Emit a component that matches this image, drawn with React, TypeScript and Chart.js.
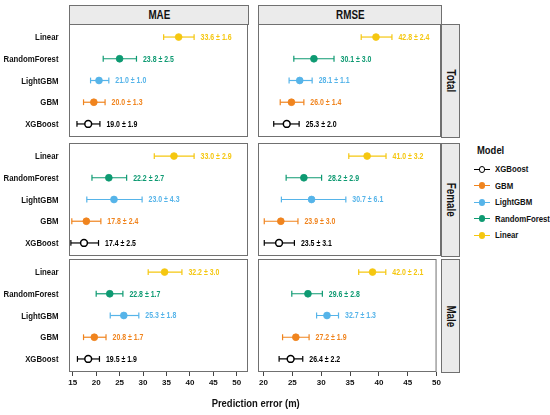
import { useEffect, useRef } from "react";
import { Chart, registerables } from "chart.js";

Chart.register(...registerables);

// models top-to-bottom as drawn in every panel
const models = ["Linear", "RandomForest", "LightGBM", "GBM", "XGBoost"];
const legendOrder = ["XGBoost", "GBM", "LightGBM", "RandomForest", "Linear"];
const modelColors: Record<string, string> = {
  Linear: "#F5C710",
  RandomForest: "#0E9A72",
  LightGBM: "#56B4E9",
  GBM: "#F0841E",
  XGBoost: "#000000",
};

const maeTicks = [15, 20, 25, 30, 35, 40, 45, 50];
const rmseTicks = [20, 25, 30, 35, 40, 45, 50];

// plotted point and interval ends
const maeTotalMean = [37.6, 25.0, 20.6, 19.5, 18.3];
const maeTotalLow = [34.4, 21.5, 18.8, 17.3, 15.9];
const maeTotalHigh = [40.9, 28.6, 22.7, 21.9, 20.8];
const maeTotalText = ["33.6 ± 1.6", "23.8 ± 2.5", "21.0 ± 1.0", "20.0 ± 1.3", "19.0 ± 1.9"];

const rmseTotalMean = [39.0, 28.5, 26.1, 24.7, 23.9];
const rmseTotalLow = [36.5, 25.1, 24.3, 22.8, 21.7];
const rmseTotalHigh = [41.7, 31.9, 28.2, 26.8, 26.0];
const rmseTotalText = ["42.8 ± 2.4", "30.1 ± 3.0", "28.1 ± 1.1", "26.0 ± 1.4", "25.3 ± 2.0"];

const maeFemaleMean = [36.6, 22.7, 23.8, 17.9, 17.4];
const maeFemaleLow = [32.4, 19.1, 18.0, 14.8, 14.6];
const maeFemaleHigh = [40.9, 26.5, 29.8, 21.0, 20.5];
const maeFemaleText = ["33.0 ± 2.9", "22.2 ± 2.7", "23.0 ± 4.3", "17.8 ± 2.4", "17.4 ± 2.5"];

const rmseFemaleMean = [37.5, 26.8, 28.1, 22.9, 22.6];
const rmseFemaleLow = [34.4, 23.8, 23.0, 20.1, 20.1];
const rmseFemaleHigh = [40.7, 29.8, 33.9, 25.8, 25.2];
const rmseFemaleText = ["41.0 ± 3.2", "28.2 ± 2.9", "30.7 ± 6.1", "23.9 ± 3.0", "23.5 ± 3.1"];

const maeMaleMean = [34.6, 22.9, 25.9, 19.6, 18.3];
const maeMaleLow = [31.1, 20.0, 23.0, 17.3, 16.0];
const maeMaleHigh = [38.3, 25.7, 29.1, 22.1, 20.7];
const maeMaleText = ["32.2 ± 3.0", "22.8 ± 1.7", "25.3 ± 1.8", "20.8 ± 1.7", "19.5 ± 1.9"];

const rmseMaleMean = [38.9, 27.7, 31.0, 25.6, 24.7];
const rmseMaleLow = [36.5, 24.9, 29.2, 23.3, 22.7];
const rmseMaleHigh = [41.2, 30.2, 33.0, 27.9, 26.8];
const rmseMaleText = ["42.0 ± 2.1", "29.6 ± 2.8", "32.7 ± 1.3", "27.2 ± 1.9", "26.4 ± 2.2"];

const FONT = '"Liberation Sans", Arial, sans-serif';
const NARROW = 0.82; // no Arial Narrow here, so squeeze the regular face
const BORDER = "#707070";

const colLeft = [69, 258];
const colRight = [248, 441];
const rowTop = [24, 143, 259];
const rowHeight = 113;

// draw squeezed text on the canvas
const narrowText = (
  ctx: CanvasRenderingContext2D,
  s: string,
  x: number,
  y: number,
  align: "left" | "right" | "center"
) => {
  ctx.save();
  ctx.translate(x, y);
  ctx.scale(NARROW, 1);
  ctx.textAlign = align;
  ctx.textBaseline = "middle";
  ctx.fillText(s, 0, 0);
  ctx.restore();
};

interface PanelProps {
  col: number;
  row: number;
  mean: number[];
  low: number[];
  high: number[];
  text: string[];
}

const Panel = ({ col, row, mean, low, high, text }: PanelProps) => {
  const canvasRef = useRef<HTMLCanvasElement | null>(null);
  const showY = col === 0;
  const showX = row === 2;
  const ticks = col === 0 ? maeTicks : rmseTicks;
  const xMin = col === 0 ? 14.2 : 19.04;
  const xMax = col === 0 ? 52.4 : 50;

  const left = col === 0 ? 0 : colLeft[1] - 2;
  const top = rowTop[row] - 2;
  const width = colRight[col] + 2 - left;
  const height = rowHeight + 4 + (showX ? 20 : 0);

  useEffect(() => {
    if (!canvasRef.current) return;

    const barSets = models.map((m, i) => ({
      type: "line" as const,
      data: [
        { x: low[i], y: i },
        { x: high[i], y: i },
      ],
      showLine: true,
      borderColor: modelColors[m],
      borderWidth: 1.2,
      pointStyle: "line" as const,
      rotation: 90,
      pointRadius: 2.9,
      pointBorderColor: modelColors[m],
      pointBorderWidth: 1.2,
    }));

    const pointSet = {
      type: "scatter" as const,
      data: models.map((_, i) => ({ x: mean[i], y: i })),
      pointRadius: 3.4,
      pointBackgroundColor: models.map((m) => (m === "XGBoost" ? "#ffffff" : modelColors[m])),
      pointBorderColor: models.map((m) => modelColors[m]),
      pointBorderWidth: models.map((m) => (m === "XGBoost" ? 1.5 : 0.8)),
    };

    const framePlugin = {
      id: "frame",
      beforeDatasetsDraw(chart: Chart) {
        const { ctx, chartArea } = chart;
        ctx.save();
        ctx.strokeStyle = BORDER;
        ctx.lineWidth = 1;
        ctx.strokeRect(
          chartArea.left + 0.5,
          chartArea.top + 0.5,
          chartArea.right - chartArea.left - 1,
          chartArea.bottom - chartArea.top - 1
        );
        ctx.restore();
      },
    };

    const textPlugin = {
      id: "valueText",
      afterDatasetsDraw(chart: Chart) {
        const { ctx, chartArea } = chart;
        const xs = chart.scales.x;
        const ys = chart.scales.y;
        ctx.save();
        ctx.font = `bold 8.5px ${FONT}`;
        models.forEach((m, i) => {
          ctx.fillStyle = modelColors[m];
          narrowText(ctx, text[i], xs.getPixelForValue(high[i]) + 6.5, ys.getPixelForValue(i) + 0.5, "left");
        });
        // model names on the left column
        if (showY) {
          ctx.font = `bold 9.5px ${FONT}`;
          ctx.fillStyle = "#111";
          models.forEach((m, i) => {
            narrowText(ctx, m, chartArea.left - 10.5, ys.getPixelForValue(i) + 0.5, "right");
          });
        }
        ctx.restore();
      },
    };

    const chart = new Chart(canvasRef.current, {
      type: "scatter",
      data: { datasets: [pointSet, ...barSets] as any },
      options: {
        animation: false,
        responsive: false,
        events: [],
        layout: {
          autoPadding: false,
          padding: { left: showY ? 0 : 2, right: 2, top: 2, bottom: 2 },
        },
        plugins: { legend: { display: false }, tooltip: { enabled: false } },
        scales: {
          x: {
            type: "linear",
            min: xMin,
            max: xMax,
            display: showX,
            afterBuildTicks: (s: any) => {
              s.ticks = ticks.map((v) => ({ value: v }));
            },
            afterFit: (s: any) => {
              if (showX) s.height = 20;
            },
            ticks: {
              font: { family: FONT, size: 8, weight: "bold" },
              color: "#111",
              padding: 2,
              maxRotation: 0,
              autoSkip: false,
            },
            grid: { drawOnChartArea: false, drawTicks: true, tickLength: 4, color: "#444" },
            border: { display: false },
          },
          y: {
            type: "linear",
            min: -0.6,
            max: 4.6,
            reverse: true,
            display: showY,
            afterBuildTicks: (s: any) => {
              s.ticks = models.map((_, i) => ({ value: i }));
            },
            afterFit: (s: any) => {
              if (showY) s.width = 69;
            },
            ticks: { display: false },
            grid: { display: false },
            border: { display: false },
          },
        },
      },
      plugins: [framePlugin, textPlugin],
    });

    return () => chart.destroy();
  }, []);

  return (
    <canvas
      ref={canvasRef}
      width={width}
      height={height}
      style={{ position: "absolute", left, top, width, height }}
    />
  );
};

const stripBase: React.CSSProperties = {
  position: "absolute",
  boxSizing: "border-box",
  background: "#ebebeb",
  border: `1px solid ${BORDER}`,
  fontFamily: FONT,
  fontWeight: "bold",
  color: "#111",
  display: "flex",
  alignItems: "center",
  justifyContent: "center",
};

const rowNames = ["Total", "Female", "Male"];
const colNames = ["MAE", "RMSE"];

const App = () => {
  return (
    <div
      style={{
        position: "absolute",
        left: 0,
        top: 0,
        width: 550,
        height: 415,
        background: "#fff",
        overflow: "hidden",
      }}
    >
      {colNames.map((name, c) => (
        <div
          key={name}
          style={{
            ...stripBase,
            left: colLeft[c],
            top: 5,
            width: colRight[c] - colLeft[c] + 1,
            height: 20,
            fontSize: 12,
          }}
        >
          <span style={{ display: "inline-block", transform: `scaleX(${NARROW})` }}>{name}</span>
        </div>
      ))}
      {rowNames.map((name, r) => (
        <div
          key={name}
          style={{
            ...stripBase,
            left: colRight[1],
            top: rowTop[r],
            width: 19,
            height: rowHeight + 1,
            fontSize: 12,
            writingMode: "vertical-rl",
          }}
        >
          <span style={{ display: "inline-block", transform: `scaleY(${NARROW})` }}>{name}</span>
        </div>
      ))}

      <Panel col={0} row={0} mean={maeTotalMean} low={maeTotalLow} high={maeTotalHigh} text={maeTotalText} />
      <Panel col={1} row={0} mean={rmseTotalMean} low={rmseTotalLow} high={rmseTotalHigh} text={rmseTotalText} />
      <Panel col={0} row={1} mean={maeFemaleMean} low={maeFemaleLow} high={maeFemaleHigh} text={maeFemaleText} />
      <Panel col={1} row={1} mean={rmseFemaleMean} low={rmseFemaleLow} high={rmseFemaleHigh} text={rmseFemaleText} />
      <Panel col={0} row={2} mean={maeMaleMean} low={maeMaleLow} high={maeMaleHigh} text={maeMaleText} />
      <Panel col={1} row={2} mean={rmseMaleMean} low={rmseMaleLow} high={rmseMaleHigh} text={rmseMaleText} />

      <div
        style={{
          position: "absolute",
          left: 156,
          width: 200,
          top: 397,
          textAlign: "center",
          fontFamily: FONT,
          fontWeight: "bold",
          fontSize: 11.5,
          color: "#111",
        }}
      >
        <span style={{ display: "inline-block", transform: `scaleX(${NARROW})` }}>Prediction error (m)</span>
      </div>

      <div
        style={{
          position: "absolute",
          left: 477,
          top: 144,
          fontFamily: FONT,
          fontWeight: "bold",
          fontSize: 11.5,
          color: "#111",
          transform: `scaleX(${NARROW})`,
          transformOrigin: "left center",
        }}
      >
        Model
      </div>
      {legendOrder.map((m, i) => (
        <div key={m} style={{ position: "absolute", left: 474, top: 169.3 + i * 16.5 - 8, height: 16 }}>
          <div
            style={{
              position: "absolute",
              left: 0,
              top: 7.4,
              width: 16,
              height: 1.2,
              background: modelColors[m],
            }}
          />
          <div
            style={{
              position: "absolute",
              left: 4.6,
              top: 4.6,
              width: 6.8,
              height: 6.8,
              boxSizing: "border-box",
              borderRadius: "50%",
              background: m === "XGBoost" ? "#fff" : modelColors[m],
              border: m === "XGBoost" ? "1.4px solid #000" : "none",
            }}
          />
          <div
            style={{
              position: "absolute",
              left: 21,
              top: 2,
              whiteSpace: "nowrap",
              fontFamily: FONT,
              fontWeight: "bold",
              fontSize: 9.5,
              color: "#111",
              transform: `scaleX(${NARROW})`,
              transformOrigin: "left center",
            }}
          >
            {m}
          </div>
        </div>
      ))}
    </div>
  );
};

export default App;
